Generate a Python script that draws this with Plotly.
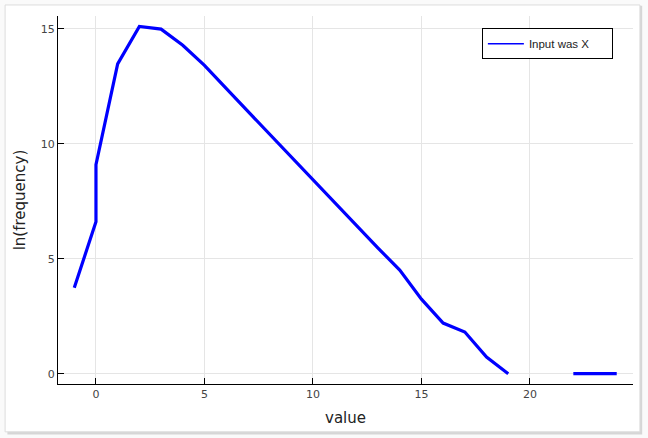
import plotly.graph_objects as go

# data: x value and ln(frequency); None where frequency is zero (gap)
values = [-1, 0, 0, 1, 2, 3, 4, 5, 6, 7, 8, 9, 10, 11, 12, 13, 14, 15, 16, 17, 18, 19, 20, 21, 22, 23, 24]
ln_freq = [3.74, 6.6, 9.09, 13.47, 15.1, 14.98, 14.28, 13.4, 12.4, 11.41, 10.42, 9.43, 8.43, 7.43, 6.42, 5.46, 4.5, 3.24, 2.2, 1.81, 0.72, 0.0, None, None, 0.0, 0.0, 0.0]
series_name = "Input was X"
x_ticks = [0, 5, 10, 15, 20]
y_ticks = [0, 5, 10, 15]

fig = go.Figure()
fig.add_trace(go.Scatter(x=values, y=ln_freq, mode="lines",
                         line=dict(color="#0000ff", width=3.2),
                         connectgaps=False, showlegend=False))
# legend entry (thinner line, as in the reference legend)
fig.add_trace(go.Scatter(x=[None], y=[None], mode="lines", name=series_name,
                         line=dict(color="#0000ff", width=1.5)))

font_family = "DejaVu Sans"
axis_common = dict(showgrid=True, gridcolor="#e5e5e5", gridwidth=1, zeroline=False,
                   showline=True, linecolor="black", linewidth=1.3,
                   ticks="inside", ticklen=6, tickcolor="black", tickwidth=1,
                   tickfont=dict(family=font_family, size=11, color="#444"),
                   mirror=False)

fig.update_layout(
    width=648, height=438,
    margin=dict(l=58, r=15, t=16, b=54, autoexpand=False),
    paper_bgcolor="#fafafa", plot_bgcolor="white",
    xaxis=dict(range=[-1.75, 24.75], tickvals=x_ticks,
               title=dict(text="value", font=dict(family=font_family, size=15, color="#222"), standoff=12),
               **axis_common),
    yaxis=dict(range=[-0.45, 15.55], tickvals=y_ticks,
               title=dict(text="ln(frequency)", font=dict(family=font_family, size=15, color="#222"), standoff=11),
               **axis_common),
    legend=dict(x=0.965, y=0.967, xanchor="right", yanchor="top",
                orientation="h", entrywidth=78, entrywidthmode="pixels", itemwidth=36,
                bgcolor="white", bordercolor="black", borderwidth=1,
                font=dict(family="Liberation Sans", size=11.5, color="#222")),
    shapes=[
        dict(type="rect", xref="paper", yref="paper", x0=-0.088, x1=1.016, y0=-0.137, y1=1.028,
             fillcolor="#d6d6d6", line=dict(width=0), layer="below"),
        dict(type="rect", xref="paper", yref="paper", x0=-0.092, x1=1.012, y0=-0.130, y1=1.030,
             fillcolor="white", line=dict(color="#dcdcdc", width=1), layer="below"),
    ],
)

fig.write_html("out.html", config={"displayModeBar": False},
               post_script="document.body.style.margin='0';")
